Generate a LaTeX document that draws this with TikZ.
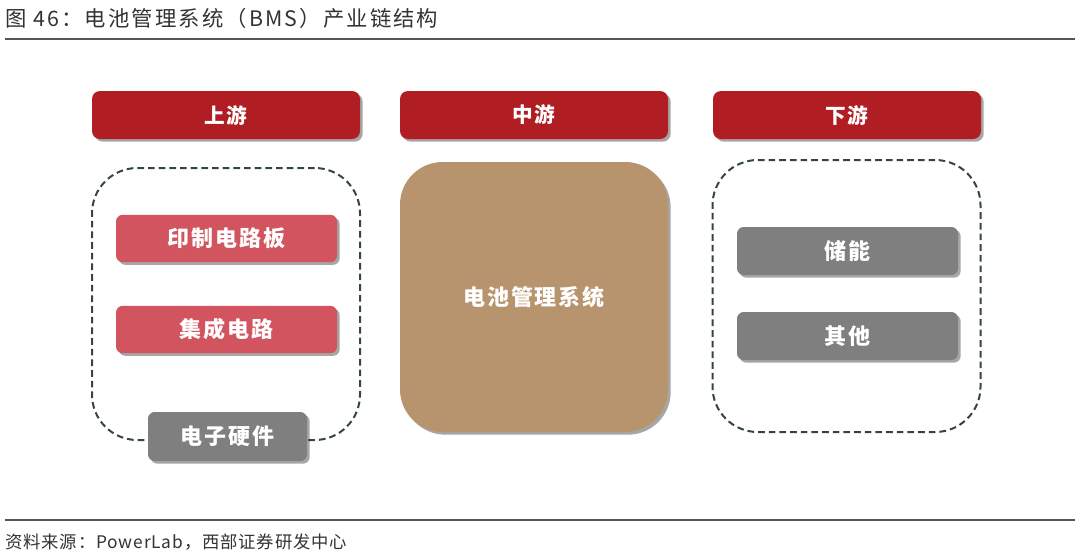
\documentclass[tikz,border=0pt]{standalone}
\usepackage{fontspec}
\setmainfont{Noto Sans CJK SC}
\newfontfamily\cjk{Noto Sans CJK SC}
\newfontfamily\cjkt[LetterSpace=10]{Noto Sans CJK SC}
\newfontfamily\cjkf[LetterSpace=5]{Noto Sans CJK SC}
\newfontfamily\cjkl[LetterSpace=8]{Noto Sans CJK SC}
\usetikzlibrary{shadows}
\definecolor{hdrred}{HTML}{B01E23}
\definecolor{pinkred}{HTML}{D2545E}
\definecolor{boxgray}{HTML}{7F7F7F}
\definecolor{brown}{HTML}{B8946E}
\definecolor{dashc}{HTML}{34444A}
\definecolor{titlec}{HTML}{333333}
\definecolor{rulec}{HTML}{555555}
\tikzset{
  shad/.style={drop shadow={shadow xshift=2pt,shadow yshift=-2pt,opacity=0.35,fill=black}},
  hdr/.style={shad,fill=hdrred,rounded corners=6pt,minimum width=201pt,minimum height=36pt,
    text=white,font=\cjkl\bfseries\fontsize{15.5}{15.5}\selectfont,inner sep=0pt},
  lbl/.style={shad,rounded corners=5pt,minimum width=165.75pt,minimum height=35.5pt,
    text=white,font=\cjkl\bfseries\fontsize{16.5}{16.5}\selectfont,inner sep=0pt},
  dashbox/.style={draw=dashc,line width=1.5pt,dash pattern=on 5pt off 3pt,rounded corners=34pt,
    minimum width=201pt,minimum height=204pt,inner sep=0pt},
}
\begin{document}
\begin{tikzpicture}[x=0.75pt,y=-0.75pt]
\useasboundingbox (0,0) rectangle (1080,557);
\fill[white] (0,0) rectangle (1080,557);
% title
\node[anchor=west,inner sep=0pt,text=titlec,font=\cjkt\fontsize{16}{16}\selectfont] (title) at (5,18) {图 46：电池管理系统（BMS）产业链结构};
\draw[rulec,line width=1.4pt] (5,39) -- (1075,39);
% headers
\node[hdr] (up) at (226,115) {上游};
\node[hdr] (mid) at (534,115) {中游};
\node[hdr] (down) at (847,115) {下游};
% dashed boxes
\node[dashbox] (leftbox) at (226,304) {};
\node[dashbox] (rightbox) at (846.5,296) {};
% middle brown
\node[shad,fill=brown,rounded corners=32pt,minimum width=201pt,minimum height=202.5pt,inner sep=0pt,
  text=white,font=\cjkl\bfseries\fontsize{16.5}{16.5}\selectfont] (bms) at (534,297) {电池管理系统};
% upstream items
\node[lbl,fill=pinkred] (pcb) at (226.5,238.5) {印制电路板};
\node[lbl,fill=pinkred] (ic) at (226.5,329.5) {集成电路};
\node[lbl,fill=boxgray,minimum width=119.25pt,minimum height=36.75pt] (hw) at (227.5,436.5) {电子硬件};
% downstream items
\node[lbl,fill=boxgray,minimum height=36pt] (es) at (847.5,251) {储能};
\node[lbl,fill=boxgray,minimum height=36pt] (other) at (847.5,336) {其他};
% footer
\draw[rulec,line width=1.2pt] (5,520) -- (1075,520);
\node[anchor=west,inner sep=0pt,text=titlec,font=\cjkf\fontsize{13}{13}\selectfont] (src) at (5,542) {资料来源：PowerLab，西部证券研发中心};
\end{tikzpicture}
\end{document}
